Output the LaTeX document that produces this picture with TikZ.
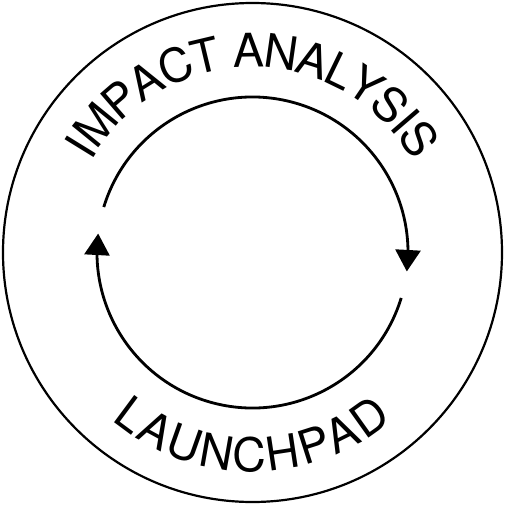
\documentclass[tikz,border=0pt]{standalone}
\usepackage{fontspec}
\setmainfont{TeX Gyre Heros}
\usetikzlibrary{arrows.meta,decorations.text,bending}
\begin{document}
\begin{tikzpicture}[x=0.02cm,y=0.02cm,
  cycle arc/.style={line width=1.6pt,-{Triangle[width=0.5cm,length=0.43cm]}},
  ring label/.style 2 args={decorate,decoration={text along path,text align=center,
    raise=#1,text={|\fontsize{26.5pt}{30pt}\selectfont|#2}}}]
\useasboundingbox (-252.5,-252.5) rectangle (252.5,252.5);
\draw[line width=1.25pt] (0,0) circle[radius=249.5];

\draw[cycle arc] (163:155.5) arc[start angle=163,end angle=-7,radius=155.5];
\draw[cycle arc] (-17:155.5) arc[start angle=-17,end angle=-187,radius=155.5];

\path[ring label={-0.26cm}{IMPACT ANALYSIS}] (180:198) arc[start angle=180,end angle=0,radius=198];
\path[ring label={-0.28cm}{LAUNCHPAD}] (180:205) arc[start angle=180,end angle=360,radius=205];
\end{tikzpicture}
\end{document}
